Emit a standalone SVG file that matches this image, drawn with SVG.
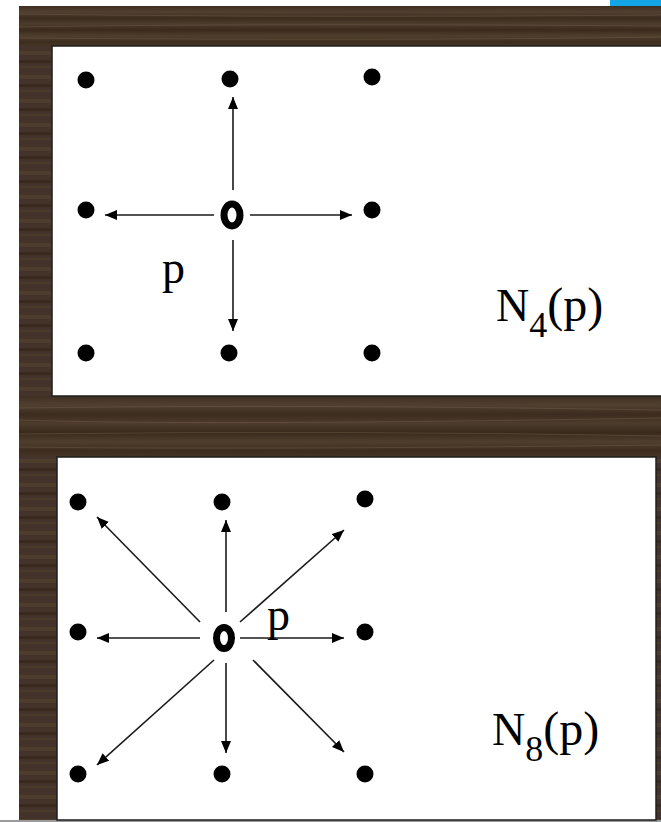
<svg xmlns="http://www.w3.org/2000/svg" width="661" height="822" viewBox="0 0 661 822">
<style>
.dot{fill:#000}
.ring{fill:none;stroke:#000;stroke-width:7}
.arr{stroke:#1a1a1a;stroke-width:1.6;fill:none;marker-end:url(#ah)}
.lbl{font-family:"Liberation Serif","Times New Roman",serif;fill:#000}
.panel{fill:#fff;stroke:#1e1e1e;stroke-width:1.5}
</style>
<defs>
<marker id="ah" markerUnits="userSpaceOnUse" markerWidth="14" markerHeight="12" refX="12" refY="5" orient="auto">
<path d="M0,0 L12,5 L0,10 Z" fill="#000"/>
</marker>
<linearGradient id="wood" x1="0" y1="0" x2="0" y2="1">
<stop offset="0" stop-color="#3f2f21"/>
<stop offset="0.15" stop-color="#514030"/>
<stop offset="0.3" stop-color="#3c2c1e"/>
<stop offset="0.45" stop-color="#4d3c2b"/>
<stop offset="0.6" stop-color="#3a2a1c"/>
<stop offset="0.75" stop-color="#4f3e2d"/>
<stop offset="0.9" stop-color="#3d2d1f"/>
<stop offset="1" stop-color="#463526"/>
</linearGradient>
<pattern id="grain" patternUnits="userSpaceOnUse" width="661" height="24">
<rect width="661" height="24" fill="#44332a"/>
<rect y="3" width="661" height="4" fill="#4e3d2d"/>
<rect y="12" width="661" height="3" fill="#3a2a1e"/>
<rect y="18" width="661" height="2" fill="#4b3a2a"/>
</pattern>
</defs>
<rect x="0" y="0" width="661" height="822" fill="#fff"/>
<rect x="610" y="0" width="51" height="6" fill="#12a6e6"/>
<rect x="19" y="6" width="642" height="816" fill="url(#grain)"/>
<rect x="19" y="6" width="642" height="40" fill="url(#wood)"/>
<rect x="19" y="396" width="642" height="61" fill="url(#wood)"/>
<g stroke="#7a6550" stroke-width="1" opacity="0.4" fill="none">
<path d="M19,14 Q300,18 661,15"/>
<path d="M19,27 Q250,23 661,26"/>
<path d="M19,38 Q400,41 661,37"/>
<path d="M19,408 Q300,404 661,410"/>
<path d="M19,420 Q200,426 661,418"/>
<path d="M19,434 Q350,430 661,436"/>
<path d="M19,447 Q250,450 661,445"/>
</g>
<rect x="0" y="820" width="661" height="2" fill="#9a9a9a"/>

<g id="panel-n4">
<rect class="panel" x="52" y="46" width="612" height="350"/>
</g>
<g id="panel-n8">
<rect class="panel" x="57" y="457" width="599" height="363"/>
</g>

<g id="connectors">
<line class="arr" x1="233" y1="190" x2="233" y2="97"/>
<line class="arr" x1="233" y1="240" x2="233" y2="331"/>
<line class="arr" x1="214" y1="215" x2="105" y2="215"/>
<line class="arr" x1="250" y1="215" x2="352" y2="215"/>

<line class="arr" x1="226" y1="612" x2="226" y2="520"/>
<line class="arr" x1="226" y1="663" x2="226" y2="753"/>
<line class="arr" x1="200" y1="638" x2="97" y2="638"/>
<line class="arr" x1="240" y1="638" x2="344" y2="638"/>
<line class="arr" x1="200" y1="622" x2="97" y2="517"/>
<line class="arr" x1="240" y1="622" x2="344" y2="530"/>
<line class="arr" x1="214" y1="660" x2="97" y2="765"/>
<line class="arr" x1="253" y1="660" x2="344" y2="752"/>
</g>

<g id="n4-p">
<ellipse class="ring" cx="232" cy="215" rx="8" ry="11"/>
<text class="lbl" x="162" y="283" font-size="46">p</text>
</g>
<g id="n4-neighbors">
<circle class="dot" cx="86" cy="80" r="8.5"/>
<circle class="dot" cx="230" cy="79" r="8.5"/>
<circle class="dot" cx="372" cy="77" r="8.5"/>
<circle class="dot" cx="86" cy="210" r="8.5"/>
<circle class="dot" cx="372" cy="210" r="8.5"/>
<circle class="dot" cx="86" cy="353" r="8.5"/>
<circle class="dot" cx="229" cy="353" r="8.5"/>
<circle class="dot" cx="372" cy="353" r="8.5"/>
</g>
<g id="n4-label">
<text class="lbl" x="496" y="321" font-size="46">N<tspan font-size="36" dy="16">4</tspan><tspan font-size="48" dy="-16">(p)</tspan></text>
</g>

<g id="n8-p">
<ellipse class="ring" cx="224" cy="638" rx="7.5" ry="10.5"/>
<text class="lbl" x="267" y="630" font-size="46">p</text>
</g>
<g id="n8-neighbors">
<circle class="dot" cx="78" cy="502" r="8.5"/>
<circle class="dot" cx="222" cy="502" r="8.5"/>
<circle class="dot" cx="365" cy="499" r="8.5"/>
<circle class="dot" cx="78" cy="632" r="8.5"/>
<circle class="dot" cx="365" cy="632" r="8.5"/>
<circle class="dot" cx="78" cy="774" r="8.5"/>
<circle class="dot" cx="222" cy="774" r="8.5"/>
<circle class="dot" cx="365" cy="774" r="8.5"/>
</g>
<g id="n8-label">
<text class="lbl" x="492" y="745" font-size="46">N<tspan font-size="36" dy="16">8</tspan><tspan font-size="48" dy="-16">(p)</tspan></text>
</g>
</svg>
